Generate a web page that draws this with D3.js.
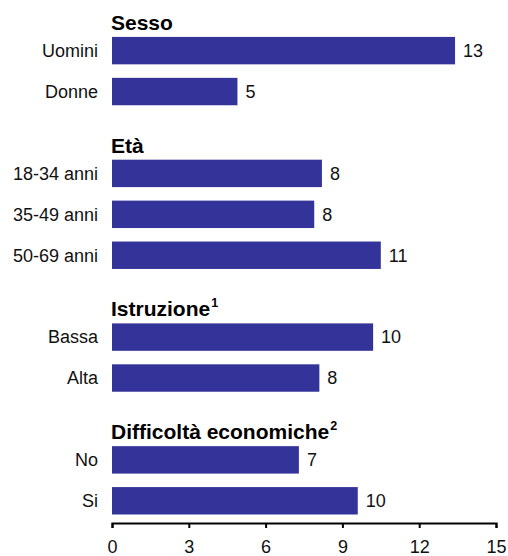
<!DOCTYPE html>
<html>
<head>
<meta charset="utf-8">
<script src="https://cdn.jsdelivr.net/npm/d3@7/dist/d3.min.js"></script>
<style>
  html, body { margin: 0; padding: 0; background: #fff; }
  svg { display: block; font-family: "Liberation Sans", Arial, Helvetica, sans-serif; }
</style>
</head>
<body>
<svg id="chart" width="508" height="556"></svg>
<script>
// Group headings, with their footnote markers
const groups = ["Sesso", "Età", "Istruzione", "Difficoltà economiche"];
const groupNotes = ["", "", "1", "2"];

// Categories, the group each belongs to, and their values (%)
const categories = ["Uomini", "Donne", "18-34 anni", "35-49 anni", "50-69 anni", "Bassa", "Alta", "No", "Si"];
const categoryGroup = [0, 0, 1, 1, 1, 2, 2, 3, 3];
const values = [13.4, 4.9, 8.2, 7.9, 10.5, 10.2, 8.1, 7.3, 9.6];

// Axis ticks
const xTicks = [0, 3, 6, 9, 12, 15];

const barColor = "#333399";
const svg = d3.select("#chart");

// One row slot per heading and per category, in drawing order
const rows = [];
groups.forEach((g, gi) => {
  rows.push({ key: "g" + gi, type: "group", label: g, note: groupNotes[gi] });
  categories.forEach((c, ci) => {
    if (categoryGroup[ci] === gi) rows.push({ key: "c" + ci, type: "cat", label: c, value: values[ci] });
  });
});

const x = d3.scaleLinear().domain([0, 15]).range([112, 496]);
const y = d3.scaleBand()
  .domain(rows.map(r => r.key))
  .range([-4, 514.5])
  .paddingInner(0.33)
  .paddingOuter(0);

const cats = rows.filter(r => r.type === "cat");
const heads = rows.filter(r => r.type === "group");

// Bars
svg.append("g").selectAll("rect")
  .data(cats)
  .join("rect")
  .attr("x", x(0))
  .attr("y", d => y(d.key))
  .attr("width", d => x(d.value) - x(0))
  .attr("height", y.bandwidth())
  .attr("fill", barColor);

// Category labels
svg.append("g").selectAll("text")
  .data(cats)
  .join("text")
  .attr("x", x(0) - 14)
  .attr("y", d => y(d.key) + y.bandwidth() / 2)
  .attr("dy", "0.35em")
  .attr("text-anchor", "end")
  .attr("font-size", 18)
  .attr("fill", "#111")
  .text(d => d.label);

// Value labels
svg.append("g").selectAll("text")
  .data(cats)
  .join("text")
  .attr("x", d => x(d.value) + 8)
  .attr("y", d => y(d.key) + y.bandwidth() / 2)
  .attr("dy", "0.35em")
  .attr("font-size", 18)
  .attr("fill", "#111")
  .text(d => Math.round(d.value));

// Group headings with superscript notes
const ht = svg.append("g").selectAll("text")
  .data(heads)
  .join("text")
  .attr("x", x(0) - 1)
  .attr("y", d => y(d.key) + y.step() - 7)
  .attr("font-size", 21)
  .attr("font-weight", "bold")
  .attr("fill", "#000");
ht.append("tspan").text(d => d.label);
ht.filter(d => d.note).append("tspan")
  .attr("font-size", 12.5)
  .attr("dy", -9)
  .attr("dx", 1)
  .text(d => d.note);

// X axis
const axis = svg.append("g")
  .attr("transform", "translate(0,523)")
  .call(d3.axisBottom(x).tickValues(xTicks).tickSize(5).tickSizeOuter(5).tickPadding(12));
axis.select(".domain").attr("stroke", "#000").attr("stroke-width", 2);
axis.selectAll(".tick line").attr("stroke", "#000").attr("stroke-width", 2);
axis.selectAll(".tick text")
  .attr("font-size", 18)
  .attr("fill", "#111")
  .attr("font-family", "\"Liberation Sans\", Arial, sans-serif");
</script>
</body>
</html>
